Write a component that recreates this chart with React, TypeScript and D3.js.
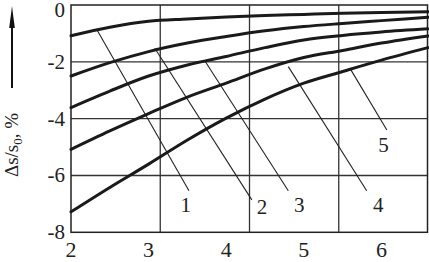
import React from "react";
import * as d3 from "d3";

const W = 429;
const H = 262;

const xValues = [2, 2.5, 3, 3.5, 4, 4.5, 5, 5.5, 6, 6.6];
const curve1 = [-1.08, -0.78, -0.57, -0.49, -0.42, -0.37, -0.33, -0.29, -0.26, -0.24];
const curve2 = [-2.5, -2.03, -1.64, -1.34, -1.11, -0.91, -0.76, -0.65, -0.55, -0.43];
const curve3 = [-3.61, -3.03, -2.5, -2.11, -1.81, -1.5, -1.23, -1.07, -0.95, -0.84];
const curve4 = [-5.08, -4.43, -3.82, -3.24, -2.75, -2.25, -1.85, -1.6, -1.34, -1.09];
const curve5 = [-7.28, -6.42, -5.6, -4.75, -3.98, -3.31, -2.75, -2.34, -1.94, -1.5];
const curves = [curve1, curve2, curve3, curve4, curve5];

const xTicks = [2, 3, 4, 5, 6];
const yTicks = [0, -2, -4, -6, -8];
const xGrid = [3.15, 4.3, 5.45];
const yGrid = [-2, -4, -6];

const labelNames = ["1", "2", "3", "4", "5"];
const pointerStart = [
  [2.33, -0.85],
  [3.08, -1.52],
  [3.73, -1.99],
  [4.8, -2.17],
  [5.595, -2.23],
];
const pointerEnd = [
  [3.52, -6.54],
  [4.33, -6.86],
  [4.8, -6.54],
  [5.81, -6.54],
  [6.07, -4.4],
];
const labelPos = [
  [3.48, -7.04],
  [4.46, -7.1],
  [4.94, -7.04],
  [5.96, -7.04],
  [6.025, -4.93],
];

const FONT = "Liberation Serif";

export default function App() {
  const x = d3.scaleLinear().domain([2, 6.6]).range([71, 428]);
  const y = d3.scaleLinear().domain([0, -8]).range([5, 232.3]);
  const line = d3
    .line<number>()
    .x((_, i) => x(xValues[i]))
    .y((d) => y(d))
    .curve(d3.curveMonotoneX);

  const ink = "#1a1a1a";
  const [x0, x1] = x.range();
  const [y0, y1] = y.range();
  const ts = { fontFamily: FONT };

  return (
    <svg
      width={W}
      height={H}
      style={{ position: "absolute", left: 0, top: 0, background: "#fff", fontFamily: FONT }}
    >
      <rect x={0} y={0} width={W} height={H} fill="#fff" />
      {yGrid.map((v) => (
        <line key={"gy" + v} x1={x0} x2={x1} y1={y(v)} y2={y(v)} stroke="#333" strokeWidth={1.3} />
      ))}
      {xGrid.map((v) => (
        <line key={"gx" + v} x1={x(v)} x2={x(v)} y1={y0} y2={y1} stroke="#333" strokeWidth={1.3} />
      ))}
      <rect x={x0} y={y0} width={x1 - x0 - 0.5} height={y1 - y0} fill="none" stroke="#222" strokeWidth={1.5} />
      {pointerStart.map((s, i) => (
        <line
          key={"p" + i}
          x1={x(s[0])}
          y1={y(s[1])}
          x2={x(pointerEnd[i][0])}
          y2={y(pointerEnd[i][1])}
          stroke="#222"
          strokeWidth={1.1}
        />
      ))}
      {curves.map((c, i) => (
        <path key={"c" + i} d={line(c) || ""} fill="none" stroke={ink} strokeWidth={3} strokeLinecap="round" />
      ))}
      {labelPos.map((p, i) => (
        <text
          key={"l" + i}
          x={x(p[0])}
          y={y(p[1])}
          fontSize={21}
          textAnchor="middle"
          dominantBaseline="central"
          fill="#222"
          style={ts}
        >
          {labelNames[i]}
        </text>
      ))}
      {yTicks.map((v) => (
        <text
          key={"yt" + v}
          x={65}
          y={y(v) + (v === 0 ? 5 : 0)}
          fontSize={21}
          textAnchor="end"
          dominantBaseline="central"
          fill="#222"
          style={ts}
        >
          {v === 0 ? "0" : "-" + Math.abs(v)}
        </text>
      ))}
      {xTicks.map((v) => (
        <text key={"xt" + v} x={x(v)} y={257} fontSize={22} textAnchor="middle" fill="#222" style={ts}>
          {v}
        </text>
      ))}
      <line x1={12} y1={88} x2={12} y2={22} stroke="#111" strokeWidth={2} />
      <path d="M12,6 L9.2,28 L14.8,28 Z" fill="#111" />
      <text
        transform="translate(18,145) rotate(-90)"
        fontSize={19}
        textAnchor="middle"
        fill="#222"
        style={ts}
      >
        Δs/s
        <tspan fontSize={13} dy={4}>0</tspan>
        <tspan dy={-4}>, %</tspan>
      </text>
    </svg>
  );
}
